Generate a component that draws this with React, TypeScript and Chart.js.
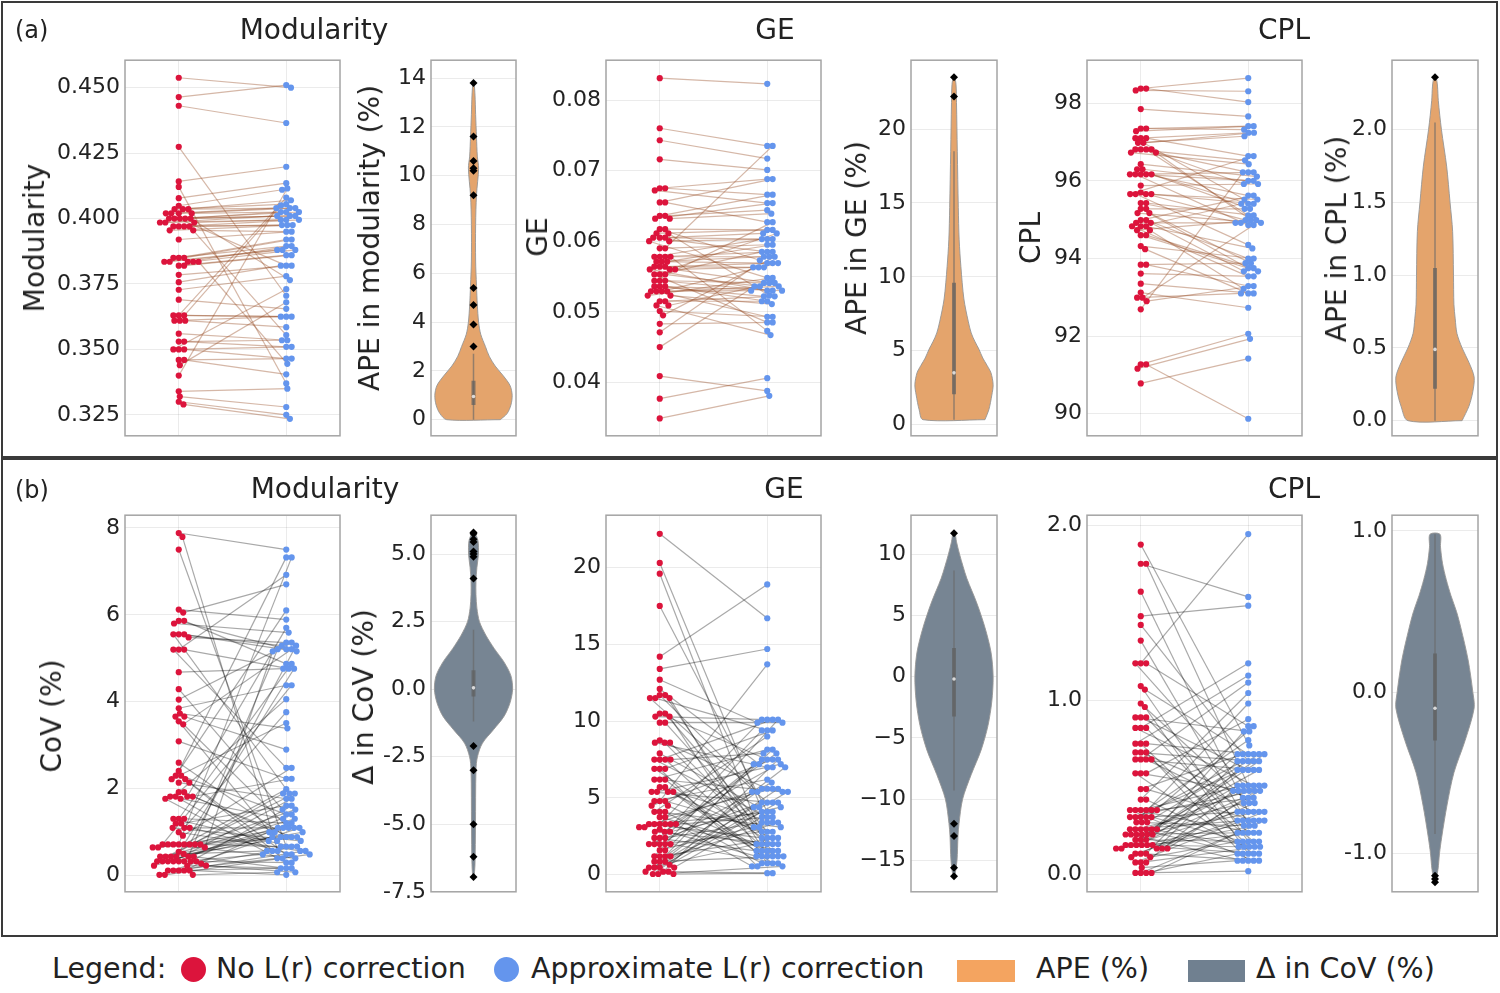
import React, { useEffect, useRef } from "react";
import { Chart, registerables } from "chart.js";

Chart.register(...registerables);

const FONT = "'DejaVu Sans', 'Liberation Sans', sans-serif";
Chart.defaults.font.family = FONT;

/* ================= DATA : row (a) paired values ================= */
const modRed = [0.4538,0.4464,0.4431,0.4274,0.4142,0.4121,0.4078,0.4049,
  0.4036,0.4036,0.4036,0.4020,0.4020,0.4020,0.4020,
  0.4000,0.4000,0.4000,0.4000,0.4000,0.3985,0.3985,0.3985,
  0.3970,0.3970,0.3970,0.3970,0.3955,0.3955,0.3920,
  0.3850,0.3850,0.3850,0.3835,0.3835,0.3835,0.3835,0.3835,0.3820,0.3820,
  0.3785,0.3757,0.3728,0.3690,0.3630,0.3630,0.3630,0.3610,0.3610,0.3610,
  0.3560,0.3530,0.3530,0.3500,0.3500,0.3500,0.3460,0.3460,
  0.3440,0.3400,0.3340,0.3320,0.3300,0.3290];
const modBlue = [0.4500,0.4510,0.4365,0.3705,0.4198,0.3370,0.4135,0.4110,
  0.4070,0.4055,0.4040,0.4040,0.4040,0.4025,0.3820,
  0.4025,0.4025,0.4010,0.4010,0.3765,0.4010,0.3995,0.3995,
  0.3995,0.3975,0.3975,0.3555,0.3975,0.3950,0.3950,
  0.3920,0.3920,0.3895,0.3895,0.3880,0.3880,0.3880,0.3445,0.3860,0.3860,
  0.3820,0.3820,0.3780,0.3655,0.4080,0.3625,0.3625,0.4050,0.3625,0.3585,
  0.3535,0.3535,0.3510,0.3510,0.3465,0.3730,0.3465,0.3405,
  0.3680,0.4115,0.3350,0.3280,0.3250,0.3235];

const geRed = [0.0831,0.0760,0.0743,0.0716,0.0675,0.0675,0.0672,0.0655,
  0.0655,0.0636,0.0636,0.0632,0.0632,0.0617,0.0617,0.0611,
  0.0611,0.0605,0.0605,0.0605,0.0600,0.0600,0.0590,0.0590,
  0.0578,0.0578,0.0578,0.0578,0.0571,0.0571,0.0571,0.0564,
  0.0564,0.0564,0.0560,0.0560,0.0560,0.0553,0.0553,0.0553,
  0.0544,0.0544,0.0544,0.0536,0.0536,0.0536,0.0529,0.0529,
  0.0529,0.0529,0.0523,0.0523,0.0515,0.0515,0.0509,0.0509,
  0.0501,0.0495,0.0483,0.0471,0.0450,0.0409,0.0377,0.0349];
const geBlue = [0.0823,0.0735,0.0717,0.0701,0.0688,0.0666,0.0654,0.0688,
  0.0627,0.0666,0.0644,0.0654,0.0639,0.0573,0.0616,0.0616,
  0.0523,0.0603,0.0611,0.0585,0.0603,0.0548,0.0595,0.0735,
  0.0585,0.0578,0.0603,0.0473,0.0569,0.0578,0.0595,0.0563,
  0.0569,0.0541,0.0611,0.0530,0.0563,0.0585,0.0536,0.0485,
  0.0530,0.0541,0.0627,0.0530,0.0515,0.0522,0.0569,0.0493,
  0.0536,0.0530,0.0511,0.0548,0.0522,0.0515,0.0467,0.0541,
  0.0493,0.0578,0.0485,0.0563,0.0536,0.0388,0.0406,0.0381];

const cplRed = [98.38,98.38,98.33,97.85,97.35,97.35,97.28,97.10,
  97.10,97.10,96.98,96.98,96.81,96.81,96.81,96.81,
  96.73,96.73,96.43,96.30,96.30,96.17,96.17,96.17,
  96.17,96.17,95.88,95.70,95.66,95.66,95.66,95.66,
  95.43,95.43,95.28,95.28,95.17,95.17,94.99,94.99,
  94.92,94.92,94.83,94.83,94.83,94.73,94.73,94.60,
  94.60,94.32,94.24,93.84,93.84,93.61,93.35,93.12,
  92.99,92.99,92.90,92.69,91.27,91.27,91.16,90.78];
const cplBlue = [98.65,98.03,98.31,97.66,97.41,97.32,97.41,97.24,
  96.64,95.52,97.24,97.15,96.22,95.11,96.53,94.99,
  96.43,95.92,96.11,96.00,95.28,96.00,95.62,94.86,
  95.41,96.22,95.92,94.99,95.52,94.35,95.41,96.64,
  94.92,95.11,93.75,95.28,94.92,93.88,95.62,94.00,
  94.92,93.67,95.41,94.26,93.54,94.99,93.22,93.67,
  93.75,94.00,93.10,93.88,93.29,93.54,93.10,92.73,
  94.86,93.10,93.29,96.22,92.06,89.87,91.93,91.42];

/* ================= DATA : row (b) paired CoV values ================= */
const covModRed = [7.88,7.79,7.50,6.12,6.05,5.86,5.86,5.80,5.55,5.55,
  5.55,5.48,5.20,5.20,5.20,4.68,4.29,4.05,3.85,3.73,
  3.66,3.66,3.55,3.48,3.09,2.60,2.41,2.30,2.30,2.22,
  2.22,2.14,2.14,1.92,1.92,1.82,1.82,1.82,1.82,1.77,
  1.77,1.31,1.31,1.31,1.20,1.20,1.10,1.10,1.10,1.00,
  0.92,0.72,0.72,0.72,0.72,0.72,0.72,0.72,0.72,0.65,
  0.65,0.65,0.55,0.50,0.44,0.44,0.44,0.44,0.44,0.44,
  0.33,0.33,0.33,0.33,0.33,0.33,0.33,0.33,0.28,0.23,
  0.23,0.23,0.12,0.12,0.12,0.12,0.12,0.02,0.02,0.02];
const covModBlue = [7.50,0.57,0.67,5.89,6.70,5.21,4.87,5.59,5.29,5.16,
  1.89,5.36,6.92,4.76,2.48,4.76,1.52,5.36,4.38,3.39,
  1.10,2.90,0.80,5.21,2.23,0.89,7.32,1.41,6.10,0.49,
  3.51,1.77,0.40,4.06,1.00,0.57,5.70,1.31,0.89,2.23,
  0.30,4.87,1.21,0.67,1.61,0.49,3.76,0.80,1.10,0.57,
  2.48,7.32,1.99,0.89,5.29,0.40,1.52,4.38,0.67,1.10,
  5.16,0.89,1.89,0.57,4.76,0.80,5.21,1.31,0.17,1.00,
  1.41,1.77,0.49,1.21,1.61,0.89,0.30,1.89,0.67,0.17,
  1.00,0.08,0.57,1.10,0.17,0.40,0.02,0.49,0.08,1.10];

const covGeRed = [22.2,20.3,19.6,17.5,14.2,13.4,12.7,12.1,11.7,11.7,
  11.5,11.5,11.5,10.5,10.5,10.3,10.3,9.9,9.9,8.75,
  8.6,8.6,8.6,7.9,7.5,7.5,7.5,7.5,6.9,6.9,
  6.9,6.2,6.2,6.2,5.7,5.7,5.4,5.4,5.4,5.4,
  4.8,4.8,4.8,4.5,4.5,4.1,4.1,4.1,3.75,3.75,
  3.3,3.3,3.3,3.3,3.3,3.3,3.1,3.1,2.95,2.8,
  2.8,2.8,2.4,2.4,2.4,2.0,2.0,2.0,2.0,2.0,
  1.6,1.6,1.2,1.2,1.2,1.2,0.85,0.85,0.85,0.47,
  0.47,0.47,0.47,0.65,0.2,0.2,0.2,0.05,0.05,0.05];
const covGeBlue = [16.7,3.4,1.55,4.1,18.9,14.7,9.9,7.2,5.4,2.0,
  9.4,1.2,4.7,7.5,2.8,10.1,0.75,9.9,3.1,5.6,
  1.55,7.0,2.4,4.4,10.1,1.2,3.75,7.9,0.55,9.4,
  2.0,5.4,1.2,8.15,3.4,0.75,7.2,2.4,4.7,1.55,
  13.7,2.8,6.2,1.2,7.5,3.1,0.75,9.0,2.0,5.6,
  10.1,1.55,4.1,7.0,2.4,0.55,5.4,3.75,1.2,7.9,
  2.0,4.4,9.4,3.4,1.55,6.0,2.8,7.5,0.75,4.7,
  3.1,8.15,2.4,5.6,10.1,3.4,7.2,4.1,1.2,5.4,
  7.0,2.0,3.75,4.7,7.5,0.1,4.4,0.55,5.6,0.1];

const covCplRed = [1.89,1.78,1.78,1.62,1.48,1.43,1.34,1.21,1.21,1.21,
  1.08,1.06,0.98,0.96,0.90,0.90,0.90,0.84,0.84,0.84,
  0.75,0.75,0.75,0.70,0.70,0.70,0.66,0.66,0.66,0.66,
  0.58,0.58,0.58,0.49,0.49,0.43,0.43,0.37,0.37,0.37,
  0.37,0.37,0.37,0.33,0.33,0.33,0.33,0.33,0.30,0.30,
  0.30,0.26,0.26,0.26,0.26,0.26,0.26,0.23,0.23,0.23,
  0.23,0.23,0.23,0.20,0.20,0.20,0.17,0.17,0.17,0.17,
  0.17,0.17,0.15,0.15,0.15,0.15,0.15,0.12,0.12,0.12,
  0.10,0.10,0.07,0.07,0.07,0.04,0.01,0.01,0.01,0.01];
const covCplBlue = [0.74,1.59,0.51,0.36,1.54,0.65,0.28,1.95,0.85,0.48,
  0.19,0.69,0.41,0.12,0.60,0.31,0.82,1.21,0.24,0.51,
  0.16,0.69,1.14,0.44,0.08,0.65,1.10,0.36,0.60,0.19,
  0.48,0.89,0.12,0.69,0.31,1.04,0.16,0.51,0.77,0.24,
  0.65,0.08,0.44,0.98,0.36,0.60,0.19,0.48,0.85,0.28,
  0.69,0.12,0.51,0.41,0.16,0.31,0.82,0.60,0.36,0.69,
  0.08,0.48,0.24,0.65,0.19,0.51,0.31,0.44,0.16,0.69,
  0.28,0.12,0.60,0.36,0.48,0.24,0.51,0.08,0.65,0.31,
  0.19,0.41,0.16,0.48,0.36,0.08,0.24,0.12,0.02,0.31];

/* ================= DATA : violins (density outline) ================= */
// levels = value on y axis, half = half-width of the violin (x-axis units, axis spans -1..1)
const apeModLevels = [0, 0.25, 0.6, 1.0, 1.4, 1.8, 2.2, 2.6, 3.0, 3.5, 4.0, 4.7, 5.5, 6.5, 8.0, 9.2, 10.3, 10.8, 11.6, 12.5, 13.3, 13.8];
const apeModHalf = [0.63, 0.79, 0.88, 0.91, 0.86, 0.70, 0.51, 0.37, 0.28, 0.17, 0.12, 0.09, 0.07, 0.05, 0.05, 0.07, 0.12, 0.09, 0.07, 0.05, 0.035, 0.012];
const apeModBox = [0, 0.6, 0.95, 1.6, 2.7]; // whisker low, q1, median, q3, whisker high
const apeModOutliers = [13.8, 11.6, 10.6, 10.3, 10.2, 9.2, 5.4, 4.7, 3.9, 3.0];

const apeGeLevels = [0.33, 1, 2, 2.7, 3.5, 4.0, 4.5, 5.1, 5.6, 6.2, 7, 8.5, 10.7, 12.5, 14.7, 18.5, 21.8, 23, 23.5];
const apeGeHalf = [0.72, 0.81, 0.88, 0.91, 0.86, 0.77, 0.67, 0.58, 0.49, 0.40, 0.33, 0.23, 0.16, 0.12, 0.10, 0.077, 0.058, 0.047, 0.016];
const apeGeBox = [0.33, 2.05, 3.5, 9.6, 18.5];
const apeGeOutliers = [23.5, 22.2];

const apeCplLevels = [0, 0.1, 0.2, 0.3, 0.4, 0.5, 0.6, 0.7, 0.8, 1.0, 1.3, 1.5, 1.75, 2.0, 2.2, 2.3, 2.36];
const apeCplHalf = [0.63, 0.79, 0.88, 0.91, 0.79, 0.63, 0.51, 0.47, 0.44, 0.43, 0.41, 0.35, 0.27, 0.15, 0.077, 0.058, 0.023];
const apeCplBox = [0, 0.22, 0.49, 1.05, 2.05];
const apeCplOutliers = [2.36];

const dModLevels = [-7.0, -6.5, -5, -3, -2.5, -2.0, -1.5, -1.0, -0.5, 0, 0.5, 1.0, 1.5, 2.0, 2.5, 3.0, 3.5, 4.0, 4.5, 5.0, 5.5, 5.8];
const dModHalf = [0.012, 0.035, 0.047, 0.058, 0.093, 0.21, 0.47, 0.72, 0.86, 0.92, 0.88, 0.72, 0.49, 0.29, 0.14, 0.08, 0.058, 0.058, 0.08, 0.116, 0.105, 0.023];
const dModBox = [-1.2, -0.27, 0.05, 0.7, 2.2];
const dModOutliers = [5.8, 5.75, 5.55, 5.45, 5.1, 5.0, 4.9, 4.1, -2.1, -3.0, -5.0, -6.2, -6.95];

const dGeLevels = [-16.2, -15, -13, -12, -10, -8, -6, -4, -2, 0, 2, 4, 6, 8, 9, 10, 11, 11.7];
const dGeHalf = [0.023, 0.07, 0.093, 0.116, 0.2, 0.4, 0.63, 0.79, 0.88, 0.91, 0.86, 0.72, 0.53, 0.3, 0.21, 0.128, 0.058, 0.023];
const dGeBox = [-9.3, -3.25, -0.2, 2.34, 8.66];
const dGeOutliers = [11.7, -12.0, -13.0, -15.6, -16.3];

const dCplLevels = [-1.18, -1.1, -1.0, -0.9, -0.7, -0.5, -0.3, -0.1, 0, 0.2, 0.4, 0.5, 0.6, 0.7, 0.8, 0.9, 0.98];
const dCplHalf = [0.012, 0.07, 0.105, 0.156, 0.28, 0.44, 0.7, 0.91, 0.88, 0.77, 0.6, 0.5, 0.37, 0.26, 0.174, 0.128, 0.116];
const dCplBox = [-0.88, -0.3, -0.1, 0.24, 0.98];
const dCplOutliers = [-1.14, -1.16, -1.18];

/* ================= TICKS & AXIS RANGES ================= */
const modTicks = [0.325, 0.35, 0.375, 0.4, 0.425, 0.45];
const modLabels = ["0.325", "0.350", "0.375", "0.400", "0.425", "0.450"];
const modRange = [0.317, 0.4605];
const apeModTicks = [0, 2, 4, 6, 8, 10, 12, 14];
const apeModLabels = ["0", "2", "4", "6", "8", "10", "12", "14"];
const apeModRange = [-0.66, 14.73];
const geTicks = [0.04, 0.05, 0.06, 0.07, 0.08];
const geLabels = ["0.04", "0.05", "0.06", "0.07", "0.08"];
const geRange = [0.03244, 0.08564];
const apeGeTicks = [0, 5, 10, 15, 20];
const apeGeLabels = ["0", "5", "10", "15", "20"];
const apeGeRange = [-0.76, 24.66];
const cplTicks = [90, 92, 94, 96, 98];
const cplLabels = ["90", "92", "94", "96", "98"];
const cplRange = [89.43, 99.11];
const apeCplTicks = [0, 0.5, 1, 1.5, 2];
const apeCplLabels = ["0.0", "0.5", "1.0", "1.5", "2.0"];
const apeCplRange = [-0.104, 2.478];

const covModTicks = [0, 2, 4, 6, 8];
const covModLabels = ["0", "2", "4", "6", "8"];
const covModRange = [-0.37, 8.29];
const dModTicks = [-7.5, -5, -2.5, 0, 2.5, 5];
const dModLabels = ["-7.5", "-5.0", "-2.5", "0.0", "2.5", "5.0"];
const dModRange = [-7.5, 6.44];
const covGeTicks = [0, 5, 10, 15, 20];
const covGeLabels = ["0", "5", "10", "15", "20"];
const covGeRange = [-1.11, 23.41];
const dGeTicks = [-15, -10, -5, 0, 5, 10];
const dGeLabels = ["\u221215", "\u221210", "\u22125", "0", "5", "10"];
const dGeRange = [-17.56, 13.17];
const covCplTicks = [0, 1, 2];
const covCplLabels = ["0.0", "1.0", "2.0"];
const covCplRange = [-0.098, 2.058];
const dCplTicks = [-1, 0, 1];
const dCplLabels = ["-1.0", "0.0", "1.0"];
const dCplRange = [-1.239, 1.098];

/* ================= STYLE / LAYOUT ================= */
const RED = "#DC143C";
const BLUE = "#6495ED";
const ORANGE_FILL = "#E4A46C";
const ORANGE_LEG = "#F4A460";
const GREY_FILL = "#778593";
const GREY_LEG = "#708090";
const LINK_A = "rgba(150, 75, 35, 0.4)";
const LINK_B = "rgba(0, 0, 0, 0.34)";
const GRID = "rgba(0,0,0,0.08)";
const TEXT = "#222";
const AXIS_W = 80;
const PAD_T = 16;
const PAD_B = 16;
const PAD_R = 4;
const DOT_R = 3.1;
const DOT_GAP = 5.4;

type Box = { x: number; y: number; w: number; h: number };
const COLS = [
  { x: 125, w: 215 }, { x: 431, w: 85 }, { x: 606, w: 215 },
  { x: 911, w: 86 }, { x: 1087, w: 215 }, { x: 1392, w: 86 },
];
const ROWA = { y: 58, h: 380 };
const ROWB = { y: 513, h: 381 };
const box = (c: number, r: { y: number; h: number }): Box => ({ x: COLS[c].x, y: r.y, w: COLS[c].w, h: r.h });

const framePlugin = {
  id: "frame",
  afterDraw(chart: any) {
    const { ctx, chartArea: a } = chart;
    ctx.save();
    ctx.strokeStyle = "#a4a4a4";
    ctx.lineWidth = 1.5;
    ctx.strokeRect(a.left, a.top, a.right - a.left, a.bottom - a.top);
    ctx.restore();
  },
};

function swarmOffsets(values: number[], pxPerY: number, pxPerX: number, diam: number): number[] {
  const idx = values.map((_, i) => i).sort((a, b) => values[b] - values[a]);
  const placed: { x: number; y: number }[] = [];
  const out: number[] = new Array(values.length).fill(0);
  for (const i of idx) {
    const y = values[i] * pxPerY;
    const near = placed.filter((p) => Math.abs(p.y - y) < diam);
    const cands = [0];
    for (const p of near) {
      const dx = Math.sqrt(diam * diam - (p.y - y) * (p.y - y));
      cands.push(p.x + dx, p.x - dx);
    }
    cands.sort((a, b) => Math.abs(a) - Math.abs(b));
    let chosen = 0;
    for (const c of cands) {
      if (near.every((p) => (p.x - c) * (p.x - c) + (p.y - y) * (p.y - y) >= diam * diam - 0.01)) {
        chosen = c;
        break;
      }
    }
    placed.push({ x: chosen, y });
    out[i] = chosen / pxPerX;
  }
  return out;
}

function yAxis(range: number[], ticks: number[], labels: string[]) {
  return {
    type: "linear",
    min: range[0],
    max: range[1],
    afterBuildTicks: (s: any) => { s.ticks = ticks.map((v) => ({ value: v })); },
    afterFit: (s: any) => { s.width = AXIS_W; },
    ticks: {
      autoSkip: false,
      padding: 5,
      color: TEXT,
      font: { family: FONT, size: 22 },
      callback: (_v: any, i: number) => labels[i],
    },
    grid: { color: GRID, drawTicks: false, lineWidth: 1 },
    border: { display: false },
  };
}

function xAxis(min: number, max: number, gridAt: number[]) {
  return {
    type: "linear",
    min,
    max,
    afterBuildTicks: (s: any) => { s.ticks = gridAt.map((v) => ({ value: v })); },
    afterFit: (s: any) => { s.height = 0; },
    ticks: { display: false },
    grid: { display: gridAt.length > 0, color: GRID, drawTicks: false },
    border: { display: false },
  };
}

function baseOptions(x: any, y: any) {
  return {
    responsive: false,
    animation: false,
    events: [],
    layout: { padding: { top: PAD_T, bottom: PAD_B, left: 0, right: PAD_R } },
    plugins: { legend: { display: false }, tooltip: { enabled: false }, title: { display: false } },
    scales: { x, y },
  };
}

function pairedConfig(b: Box, red: number[], blue: number[], range: number[], ticks: number[], labels: string[], linkColor: string) {
  const pxPerY = b.h / (range[1] - range[0]);
  const pxPerX = b.w / 2;
  const offR = swarmOffsets(red, pxPerY, pxPerX, DOT_GAP);
  const offB = swarmOffsets(blue, pxPerY, pxPerX, DOT_GAP);
  const links = red.map((v, i) => ({
    type: "scatter",
    data: [{ x: offR[i], y: v }, { x: 1 + offB[i], y: blue[i] }],
    showLine: true,
    borderColor: linkColor,
    borderWidth: 1.2,
    pointRadius: 0,
    order: 5,
  }));
  return {
    type: "scatter",
    data: {
      datasets: [
        { data: red.map((v, i) => ({ x: offR[i], y: v })), backgroundColor: RED, pointRadius: DOT_R, borderWidth: 0, order: 1 },
        { data: blue.map((v, i) => ({ x: 1 + offB[i], y: v })), backgroundColor: BLUE, pointRadius: DOT_R, borderWidth: 0, order: 1 },
        ...links,
      ],
    },
    options: baseOptions(xAxis(-0.5, 1.5, [0, 1]), yAxis(range, ticks, labels)),
    plugins: [framePlugin],
  };
}

function violinConfig(levels: number[], half: number[], stats: number[], outliers: number[], range: number[], ticks: number[], labels: string[], fill: string) {
  const right = levels.map((y, i) => ({ x: half[i], y }));
  const left = levels.map((y, i) => ({ x: -half[i], y })).reverse();
  const outline = [...right, ...left, { x: half[0], y: levels[0] }];
  return {
    type: "scatter",
    data: {
      datasets: [
        { data: outliers.map((v) => ({ x: 0, y: v })), pointStyle: "rectRot", pointRadius: 4, backgroundColor: "#000", borderWidth: 0, order: 0 },
        { data: [{ x: 0, y: stats[2] }], pointRadius: 1.8, backgroundColor: "rgba(230,230,230,0.9)", borderWidth: 0, order: 1 },
        { data: [{ x: 0, y: stats[1] }, { x: 0, y: stats[3] }], showLine: true, borderColor: "rgba(95,95,95,0.7)", borderWidth: 4, pointRadius: 0, order: 2 },
        { data: [{ x: 0, y: stats[0] }, { x: 0, y: stats[4] }], showLine: true, borderColor: "rgba(105,105,105,0.65)", borderWidth: 1.5, pointRadius: 0, order: 3 },
        { data: outline, showLine: true, fill: "shape", backgroundColor: fill, borderColor: "rgba(150,150,150,0.9)", borderWidth: 1, pointRadius: 0, tension: 0.3, order: 4 },
      ],
    },
    options: baseOptions(xAxis(-1, 1, []), yAxis(range, ticks, labels)),
    plugins: [framePlugin],
  };
}

const CHARTS: { b: Box; make: (b: Box) => any }[] = [
  { b: box(0, ROWA), make: (b) => pairedConfig(b, modRed, modBlue, modRange, modTicks, modLabels, LINK_A) },
  { b: box(1, ROWA), make: () => violinConfig(apeModLevels, apeModHalf, apeModBox, apeModOutliers, apeModRange, apeModTicks, apeModLabels, ORANGE_FILL) },
  { b: box(2, ROWA), make: (b) => pairedConfig(b, geRed, geBlue, geRange, geTicks, geLabels, LINK_A) },
  { b: box(3, ROWA), make: () => violinConfig(apeGeLevels, apeGeHalf, apeGeBox, apeGeOutliers, apeGeRange, apeGeTicks, apeGeLabels, ORANGE_FILL) },
  { b: box(4, ROWA), make: (b) => pairedConfig(b, cplRed, cplBlue, cplRange, cplTicks, cplLabels, LINK_A) },
  { b: box(5, ROWA), make: () => violinConfig(apeCplLevels, apeCplHalf, apeCplBox, apeCplOutliers, apeCplRange, apeCplTicks, apeCplLabels, ORANGE_FILL) },
  { b: box(0, ROWB), make: (b) => pairedConfig(b, covModRed, covModBlue, covModRange, covModTicks, covModLabels, LINK_B) },
  { b: box(1, ROWB), make: () => violinConfig(dModLevels, dModHalf, dModBox, dModOutliers, dModRange, dModTicks, dModLabels, GREY_FILL) },
  { b: box(2, ROWB), make: (b) => pairedConfig(b, covGeRed, covGeBlue, covGeRange, covGeTicks, covGeLabels, LINK_B) },
  { b: box(3, ROWB), make: () => violinConfig(dGeLevels, dGeHalf, dGeBox, dGeOutliers, dGeRange, dGeTicks, dGeLabels, GREY_FILL) },
  { b: box(4, ROWB), make: (b) => pairedConfig(b, covCplRed, covCplBlue, covCplRange, covCplTicks, covCplLabels, LINK_B) },
  { b: box(5, ROWB), make: () => violinConfig(dCplLevels, dCplHalf, dCplBox, dCplOutliers, dCplRange, dCplTicks, dCplLabels, GREY_FILL) },
];

function ChartCanvas({ b, make }: { b: Box; make: (b: Box) => any }) {
  const ref = useRef<HTMLCanvasElement>(null);
  const w = AXIS_W + b.w + PAD_R;
  const h = PAD_T + b.h + PAD_B;
  useEffect(() => {
    const chart = new Chart(ref.current as HTMLCanvasElement, make(b));
    return () => chart.destroy();
  }, []);
  return (
    <canvas
      ref={ref}
      width={w}
      height={h}
      style={{ position: "absolute", left: b.x - AXIS_W, top: b.y - PAD_T, width: w, height: h }}
    />
  );
}

function Label({ x, y, size, rotate, children, align }: { x: number; y: number; size: number; rotate?: boolean; align?: "left" | "center"; children: any }) {
  const tx = align === "left" ? "translate(0,-50%)" : "translate(-50%,-50%)";
  return (
    <div
      style={{
        position: "absolute",
        left: x,
        top: y,
        transform: rotate ? `${tx} rotate(-90deg)` : tx,
        whiteSpace: "nowrap",
        fontFamily: FONT,
        fontSize: size,
        lineHeight: 1,
        color: TEXT,
      }}
    >
      {children}
    </div>
  );
}

export default function App() {
  return (
    <div style={{ position: "absolute", left: 0, top: 0, width: 1500, height: 993, background: "#fff", overflow: "hidden" }}>
      <div style={{ position: "absolute", left: 1, top: 1, width: 1497, height: 457, border: "2px solid #3a3a3a", boxSizing: "border-box" }} />
      <div style={{ position: "absolute", left: 1, top: 458, width: 1497, height: 479, border: "2px solid #3a3a3a", boxSizing: "border-box" }} />

      {CHARTS.map((c, i) => (
        <ChartCanvas key={i} b={c.b} make={c.make} />
      ))}

      <Label x={15} y={30} size={24} align="left">(a)</Label>
      <Label x={15} y={490} size={24} align="left">(b)</Label>

      <Label x={314} y={30} size={28}>Modularity</Label>
      <Label x={775} y={30} size={28}>GE</Label>
      <Label x={1284} y={30} size={28}>CPL</Label>
      <Label x={325} y={489} size={28}>Modularity</Label>
      <Label x={784} y={489} size={28}>GE</Label>
      <Label x={1294} y={489} size={28}>CPL</Label>

      <Label x={35} y={238} size={28} rotate>Modularity</Label>
      <Label x={370} y={238} size={28} rotate>APE in modularity (%)</Label>
      <Label x={538} y={237} size={28} rotate>GE</Label>
      <Label x={857} y={238} size={28} rotate>APE in GE (%)</Label>
      <Label x={1031} y={238} size={28} rotate>CPL</Label>
      <Label x={1337} y={239} size={28} rotate>APE in CPL (%)</Label>
      <Label x={52} y={716} size={28} rotate>CoV (%)</Label>
      <Label x={364} y={697} size={28} rotate>Δ in CoV (%)</Label>

      <Label x={52} y={969} size={28.5} align="left">Legend:</Label>
      <div style={{ position: "absolute", left: 181, top: 957, width: 25, height: 25, borderRadius: "50%", background: RED }} />
      <Label x={216} y={969} size={28.5} align="left">No L(r) correction</Label>
      <div style={{ position: "absolute", left: 494, top: 957, width: 25, height: 25, borderRadius: "50%", background: BLUE }} />
      <Label x={531} y={969} size={28.5} align="left">Approximate L(r) correction</Label>
      <div style={{ position: "absolute", left: 957, top: 960, width: 58, height: 22, background: ORANGE_LEG }} />
      <Label x={1036} y={969} size={28.5} align="left">APE (%)</Label>
      <div style={{ position: "absolute", left: 1188, top: 960, width: 57, height: 22, background: GREY_LEG }} />
      <Label x={1256} y={969} size={28.5} align="left">Δ in CoV (%)</Label>
    </div>
  );
}
